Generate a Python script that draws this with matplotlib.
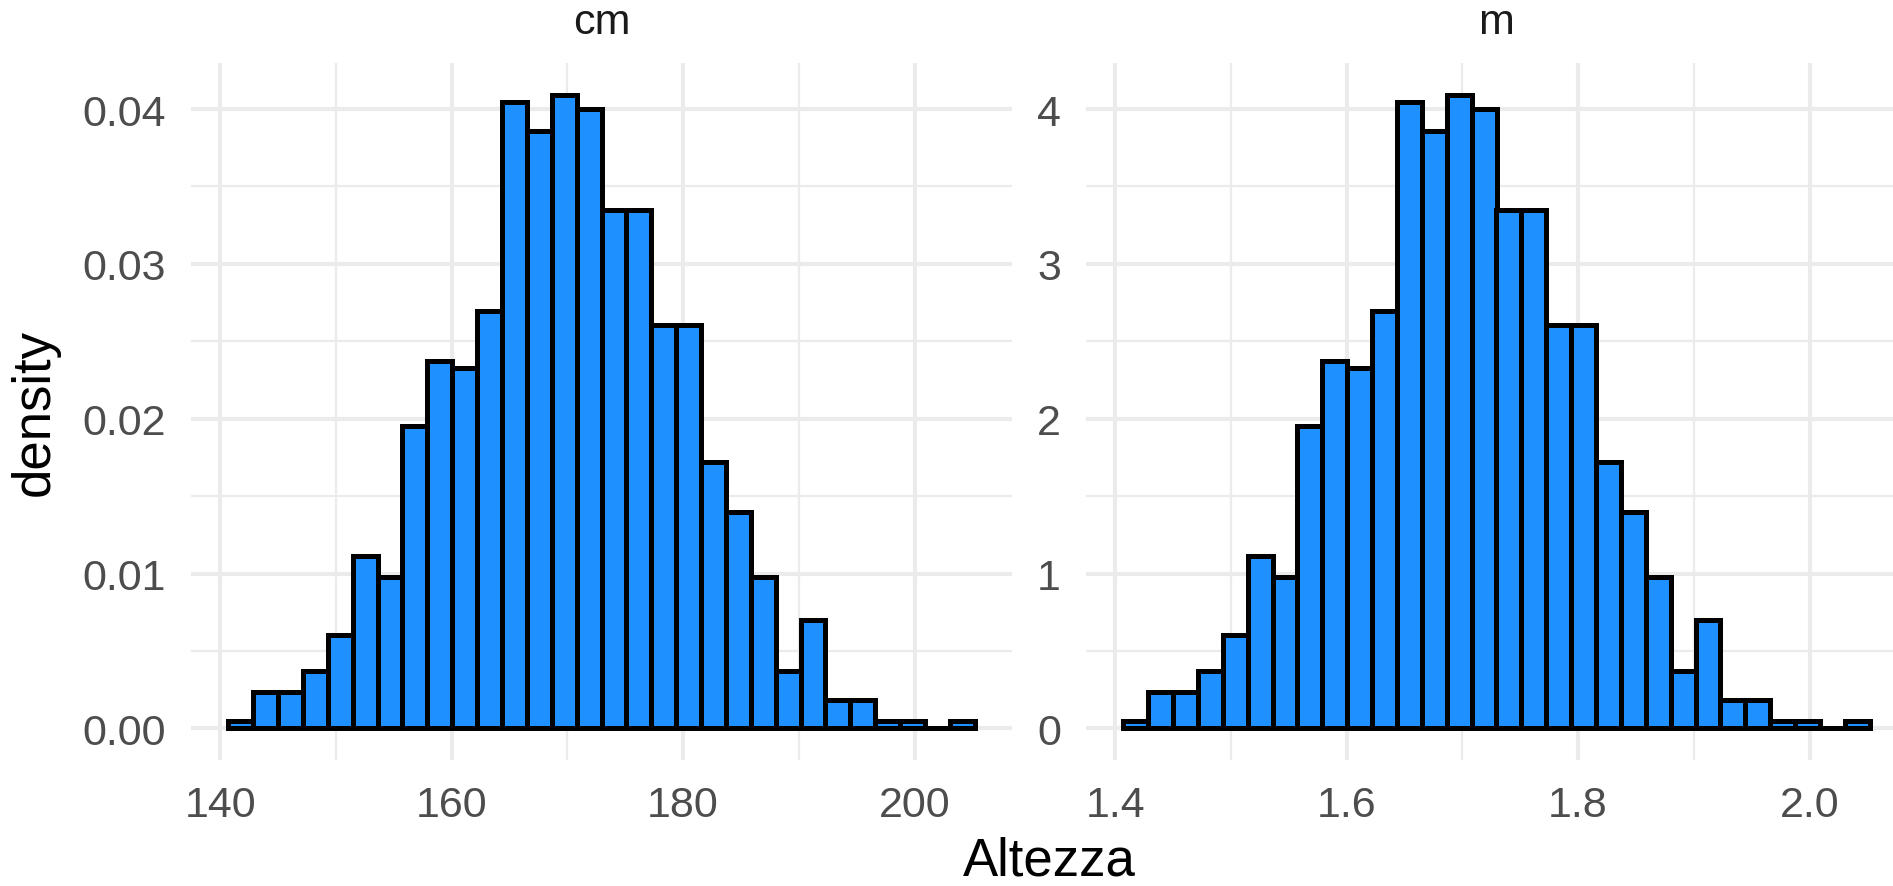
import numpy as np
import matplotlib
matplotlib.use("Agg")
import matplotlib.pyplot as plt
from matplotlib.ticker import FixedLocator, FormatStrFormatter

plt.rcParams['font.family'] = ['Liberation Sans', 'DejaVu Sans']

# heights (cm) of 1000 people, grouped into 30 bins
counts = [1, 5, 5, 8, 13, 24, 21, 42, 51, 50,
          58, 87, 83, 88, 86, 72, 72, 56, 56, 37,
          30, 21, 8, 15, 4, 4, 1, 1, 0, 1]
first_edge_cm = 140.7
bin_width_cm = 2.15

panels = ["cm", "m"]
unit_scale = [1.0, 0.01]
x_major = [[140, 160, 180, 200], [1.4, 1.6, 1.8, 2.0]]
x_minor = [[150, 170, 190], [1.5, 1.7, 1.9]]
y_major = [[0.0, 0.01, 0.02, 0.03, 0.04], [0, 1, 2, 3, 4]]
y_minor = [[0.005, 0.015, 0.025, 0.035], [0.5, 1.5, 2.5, 3.5]]
x_fmt = ["%d", "%.1f"]
y_fmt = ["%.2f", "%d"]

W, H = 1893, 887
fig = plt.figure(figsize=(W / 100, H / 100), dpi=100)

grid_col = "#EBEBEB"
text_col = "#4D4D4D"
lefts = [191, 1086]
top_px, bottom_px = 64, 761
width_px = 821

edges_cm = first_edge_cm + bin_width_cm * np.arange(len(counts) + 1)

for i, name in enumerate(panels):
    ax = fig.add_axes([lefts[i] / W, 1 - bottom_px / H,
                       width_px / W, (bottom_px - top_px) / H])
    edges = edges_cm * unit_scale[i]
    n, _, _ = ax.hist(edges[:-1], bins=edges, weights=counts, density=True,
                      facecolor="#1E90FF", edgecolor="black", linewidth=3.6,
                      zorder=3)
    span = edges[-1] - edges[0]
    ax.set_xlim(edges[0] - 0.05 * span, edges[-1] + 0.05 * span)
    ax.set_ylim(-0.05 * n.max(), 1.05 * n.max())

    ax.xaxis.set_major_locator(FixedLocator(x_major[i]))
    ax.xaxis.set_minor_locator(FixedLocator(x_minor[i]))
    ax.yaxis.set_major_locator(FixedLocator(y_major[i]))
    ax.yaxis.set_minor_locator(FixedLocator(y_minor[i]))
    ax.xaxis.set_major_formatter(FormatStrFormatter(x_fmt[i]))
    ax.yaxis.set_major_formatter(FormatStrFormatter(y_fmt[i]))

    ax.grid(which="major", color=grid_col, linewidth=3.0, zorder=0)
    ax.grid(which="minor", color=grid_col, linewidth=1.6, zorder=0)
    ax.set_axisbelow(True)
    for s in ax.spines.values():
        s.set_visible(False)
    ax.tick_params(which="both", length=0, labelsize=31, labelcolor=text_col,
                   pad=18)

    fig.text((lefts[i] + width_px / 2) / W, 1 - 34 / H, name,
             ha="center", va="baseline", fontsize=31, color="#1A1A1A")

fig.text(1049 / W, 1 - 876 / H, "Altezza", ha="center", va="baseline",
         fontsize=38, color="black")
fig.text(35 / W, 1 - 413 / H, "density", ha="center", va="center",
         rotation=90, fontsize=38, color="black")

fig.savefig("out.png", dpi=100, facecolor="white")
